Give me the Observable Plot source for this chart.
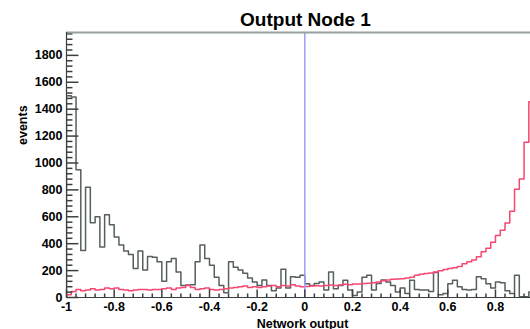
<!DOCTYPE html>
<html><head><meta charset="utf-8">
<script src="https://cdn.jsdelivr.net/npm/d3@7"></script>
<script src="https://cdn.jsdelivr.net/npm/@observablehq/plot@0.6"></script>
<style>html,body{margin:0;padding:0;background:#fff;overflow:hidden}</style>
</head><body><div id="chart"></div>
<script>
// Histogram binning (100 bins over [-1, 1]; visible part up to ~0.95)
const binStart = -1;
const binWidth = 0.02;

// Background (black) histogram, events per bin
const background = [
  1500, 1490, 950, 350, 820, 555, 600, 375, 615, 540,
  450, 390, 345, 320, 215, 345, 205, 305, 300, 265,
  120, 265, 290, 190, 90, 92, 95, 265, 390, 290,
  240, 150, 90, 35, 265, 225, 205, 180, 145, 115,
  90, 130, 90, 50, 70, 210, 70, 155, 150, 165,
  103, 90, 105, 115, 55, 190, 65, 90, 128, 55,
  15, 40, 150, 165, 55, 105, 130, 115, 90, 40,
  70, 30, 128, 60, 55, 55, 45, 185, 20, 30,
  103, 128, 80, 60, 55, 60, 155, 140, 103, 70,
  115, 110, 50, 30, 165, 5, 5, 40
];

// Signal (red) histogram, events per bin
const signal = [
  20, 45, 60, 50, 55, 65, 55, 60, 70, 65,
  70, 60, 55, 50, 55, 60, 60, 55, 60, 60,
  65, 70, 60, 70, 75, 90, 75, 60, 65, 70,
  60, 55, 60, 65, 70, 75, 80, 85, 75, 80,
  75, 80, 85, 90, 80, 90, 85, 95, 85, 80,
  82, 85, 88, 85, 90, 92, 90, 92, 98, 95,
  100, 100, 104, 106, 110, 115, 125, 130, 135, 138,
  140, 145, 150, 165, 172, 178, 182, 190, 198, 208,
  215, 222, 230, 250, 265, 278, 303, 340, 366, 410,
  460, 500, 554, 641, 805, 880, 1155, 1456
];

const cutValue = [0];
const xTicks = [-1, -0.8, -0.6, -0.4, -0.2, 0, 0.2, 0.4, 0.6, 0.8];
const yTicks = [0, 200, 400, 600, 800, 1000, 1200, 1400, 1600, 1800];
const xMinorTicks = [-0.96, -0.92, -0.88, -0.84, -0.76, -0.72, -0.68, -0.64, -0.56, -0.52, -0.48, -0.44,
  -0.36, -0.32, -0.28, -0.24, -0.16, -0.12, -0.08, -0.04, 0.04, 0.08, 0.12, 0.16, 0.24, 0.28, 0.32, 0.36,
  0.44, 0.48, 0.52, 0.56, 0.64, 0.68, 0.72, 0.76, 0.84, 0.88, 0.92];
const yMinorTicks = [40, 80, 120, 160, 240, 280, 320, 360, 440, 480, 520, 560, 640, 680, 720, 760,
  840, 880, 920, 960, 1040, 1080, 1120, 1160, 1240, 1280, 1320, 1360, 1440, 1480, 1520, 1560,
  1640, 1680, 1720, 1760, 1840, 1880, 1920, 1960];

// axis extents and tick lengths (in axis units)
const xMin = -1, xMax = 0.947;
const yMin = 0, yMax = 1970;
const yTickLenMajor = 0.05, yTickLenMinor = 0.025;
const xTickLenMajor = 60, xTickLenMinor = 30;

function steps(values) {
  const pts = [{x: binStart, y: 0}];
  values.forEach((v, i) => pts.push({x: binStart + i * binWidth, y: v}));
  pts.push({x: binStart + values.length * binWidth, y: values[values.length - 1]});
  return pts;
}

const yTickSegs = yTicks.map(v => ({a: xMin, b: xMin + yTickLenMajor, y: v}))
  .concat(yMinorTicks.map(v => ({a: xMin, b: xMin + yTickLenMinor, y: v})));
const xTickSegs = xTicks.map(v => ({x: v, a: yMin, b: yMin + xTickLenMajor}))
  .concat(xMinorTicks.map(v => ({x: v, a: yMin, b: yMin + xTickLenMinor})));

const font = "'Liberation Sans', Arial, Helvetica, sans-serif";
const axisColor = "#3a403f";

const chart = Plot.plot({
  width: 530,
  height: 329,
  marginLeft: 66,
  marginRight: 0,
  marginTop: 32,
  marginBottom: 32,
  style: {fontFamily: font, background: "#fff", color: "#000"},
  x: {domain: [xMin, xMax]},
  y: {domain: [yMin, yMax]},
  marks: [
    Plot.line(steps(background), {x: "x", y: "y", curve: "step-after", stroke: "#55605d", strokeWidth: 1.5, clip: true}),
    Plot.line(steps(signal), {x: "x", y: "y", curve: "step-after", stroke: "#f5476f", strokeWidth: 1.5, clip: true}),
    Plot.ruleX(cutValue, {x: d => d, stroke: "#9d9dff", strokeWidth: 1.5}),
    Plot.link(yTickSegs, {x1: "a", x2: "b", y1: "y", y2: "y", stroke: axisColor, strokeWidth: 1.5}),
    Plot.link(xTickSegs, {x1: "x", x2: "x", y1: "a", y2: "b", stroke: axisColor, strokeWidth: 1.5}),
    Plot.ruleY([yMax], {stroke: "#96a09e", strokeWidth: 2}),
    Plot.ruleX([xMin], {stroke: axisColor, strokeWidth: 1.2}),
    Plot.ruleY([yMin], {stroke: axisColor, strokeWidth: 1.2}),
    Plot.axisY({ticks: yTicks, tickSize: 0, tickPadding: 4, tickFormat: d => String(d), fontSize: 12.5, fontWeight: "bold", label: null}),
    Plot.axisX({ticks: xTicks, tickSize: 0, tickPadding: 5, tickFormat: d => String(d), fontSize: 12.5, fontWeight: "bold", label: null}),
    Plot.text(["Output Node 1"], {frameAnchor: "top", dx: 7, dy: -7, lineAnchor: "bottom", fontSize: 19, fontWeight: "bold", fill: "#000"}),
    Plot.text(["events"], {frameAnchor: "left", dx: -44, dy: -20, rotate: -90, fontSize: 12.5, fontWeight: "bold", fill: "#000"}),
    Plot.text(["Network output"], {frameAnchor: "bottom", dx: 4, dy: 30, lineAnchor: "bottom", fontSize: 12.5, fontWeight: "bold", fill: "#000"})
  ]
});
document.getElementById("chart").appendChild(chart);
</script>
</body></html>
